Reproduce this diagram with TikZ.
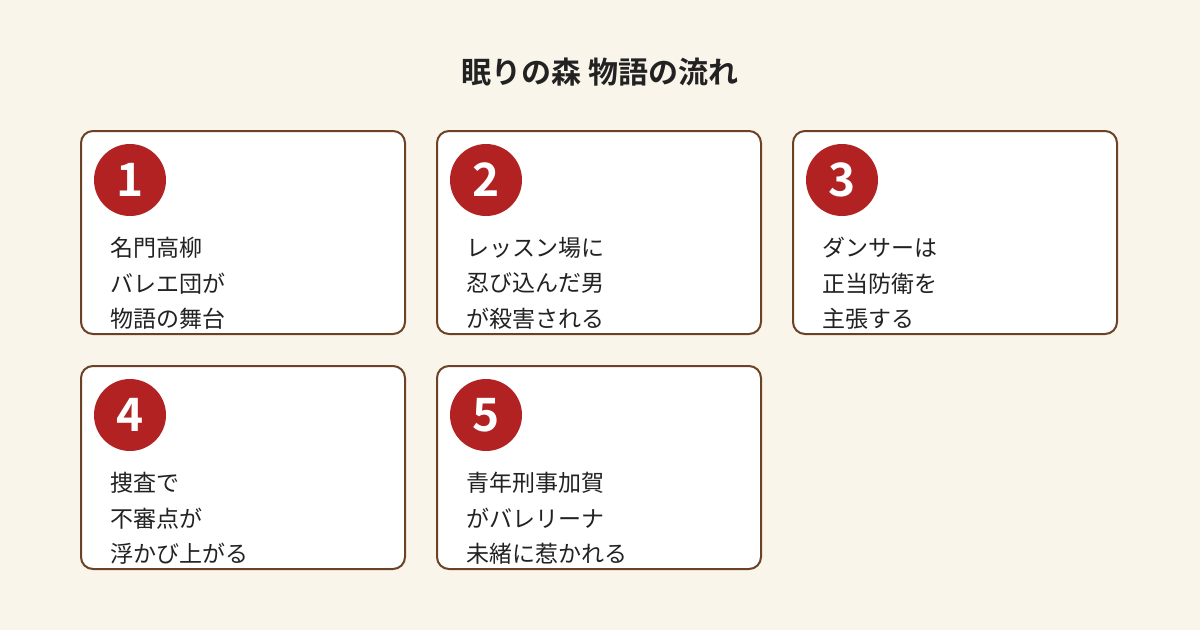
\documentclass[tikz,border=0pt]{standalone}
\usepackage{fontspec}
\setmainfont{Noto Sans CJK JP}
\newfontfamily\cjkb{Noto Sans CJK JP Bold}
\definecolor{bg}{HTML}{FAF5EA}
\definecolor{brd}{HTML}{6B4226}
\definecolor{red}{HTML}{B22222}
\definecolor{ink}{HTML}{222222}
\tikzset{
  card/.style={draw=brd,line width=2pt,fill=white,rounded corners=12pt},
  num/.style={circle,fill=red,minimum size=72pt,inner sep=0pt,text=white,font=\cjkb\fontsize{46}{46}\selectfont},
  body/.style={anchor=north west,align=left,inner sep=0pt,text=ink,font=\fontsize{23}{35.5}\selectfont},
}
\begin{document}
\begin{tikzpicture}[x=1pt,y=-1pt]
\fill[bg] (0,0) rectangle (1200,630);
\useasboundingbox (0,0) rectangle (1200,630);
\node[font=\cjkb\fontsize{30}{30}\selectfont,text=ink] (title) at (600,72) {眠りの森 物語の流れ};
\foreach \i/\x/\y/\t in {1/81/131/{名門高柳\\バレエ団が\\物語の舞台},2/437/131/{レッスン場に\\忍び込んだ男\\が殺害される},3/793/131/{ダンサーは\\正当防衛を\\主張する},4/81/366/{捜査で\\不審点が\\浮かび上がる},5/437/366/{青年刑事加賀\\がバレリーナ\\未緒に惹かれる}}{
  \draw[card] (\x,\y) rectangle ++(324,203);
  \node[num] (n\i) at (\x+49,\y+49) {\i};
  \node[body] (t\i) at (\x+29,\y+106) {\t};
}
\end{tikzpicture}
\end{document}
